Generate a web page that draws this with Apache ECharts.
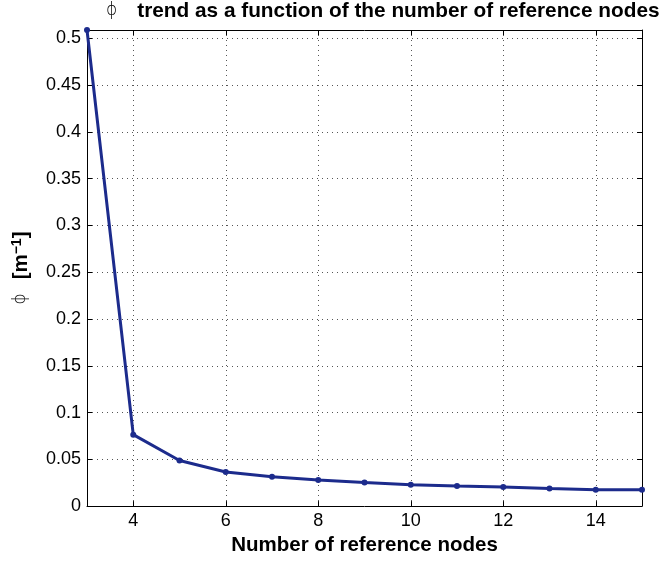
<!DOCTYPE html>
<html>
<head>
<meta charset="utf-8">
<script src="https://cdn.jsdelivr.net/npm/echarts@6/dist/echarts.min.js"></script>
<style>
  html, body { margin: 0; padding: 0; background: #fff; }
  #chart { width: 668px; height: 561px; }
</style>
</head>
<body>
<div id="chart"></div>
<script>
// Number of reference nodes and the resulting phi values [1/m]
const nodes = [3, 4, 5, 6, 7, 8, 9, 10, 11, 12, 13, 14, 15];
const phi = [0.509, 0.0764, 0.0487, 0.0364, 0.0314, 0.0279, 0.0253, 0.0229, 0.0215, 0.0204, 0.0189, 0.0176, 0.0176];
const xTicks = [4, 6, 8, 10, 12, 14];

const FONT = '"Liberation Sans", Arial, Helvetica, sans-serif';
const PHI_FONT = '"DejaVu Sans Light", "DejaVu Sans ExtraLight", "DejaVu Sans", sans-serif';
const LINE = '#1c2b8c';

const chart = echarts.init(document.getElementById('chart'), null, { renderer: 'canvas' });

const axisLineStyle = { show: true, onZero: false, lineStyle: { color: '#000', width: 1 } };
const tick = { show: true, inside: true, length: 5, lineStyle: { color: '#000', width: 1 } };
const grid = { show: true, lineStyle: { color: '#555', width: 1, type: [1, 4] } };

chart.setOption({
  animation: false,
  backgroundColor: '#fff',
  title: {
    text: '{p|\u03D5}{b|trend as a function of the number of reference nodes}',
    left: 106,
    top: 0,
    padding: 0,
    textStyle: {
      rich: {
        p: { fontFamily: PHI_FONT, fontWeight: 'lighter', fontSize: 17, color: '#000', height: 22 },
        b: { fontFamily: FONT, fontSize: 20.8, fontWeight: 'bold', color: '#000', height: 22, padding: [0, 0, 0, 20] }
      }
    }
  },
  grid: { left: 87, right: 26, top: 30, bottom: 52, containLabel: false },
  xAxis: [
    {
      type: 'value', min: 3, max: 15, position: 'bottom',
      name: 'Number of reference nodes', nameLocation: 'middle', nameGap: 24,
      nameTextStyle: { fontFamily: FONT, fontSize: 20.5, fontWeight: 'bold', color: '#000' },
      axisLine: axisLineStyle,
      axisTick: Object.assign({ customValues: xTicks }, tick),
      axisLabel: { customValues: xTicks, fontFamily: FONT, fontSize: 18, color: '#000', margin: 6 },
      splitLine: grid
    },
    {
      type: 'value', min: 3, max: 15, position: 'top',
      axisLine: axisLineStyle,
      axisTick: Object.assign({ customValues: xTicks }, tick),
      axisLabel: { show: false, customValues: xTicks },
      splitLine: { show: false }
    }
  ],
  yAxis: [
    {
      type: 'value', min: 0, max: 0.509, interval: 0.05, position: 'left',
      name: '{p|\u03D5}{b|[m}{s|\u22121}{b|]}', nameLocation: 'middle', nameGap: 50, nameRotate: 90,
      nameTextStyle: {
        rich: {
          p: { fontFamily: PHI_FONT, fontWeight: 'lighter', fontSize: 17, color: '#000', height: 24, padding: [0, 14, 0, 0] },
          b: { fontFamily: FONT, fontSize: 20.5, fontWeight: 'bold', color: '#000', height: 24 },
          s: { fontFamily: FONT, fontSize: 14, fontWeight: 'bold', color: '#000', verticalAlign: 'top', height: 24, padding: [0, 0, 8, 0] }
        }
      },
      axisLine: axisLineStyle,
      axisTick: tick,
      axisLabel: { showMaxLabel: false, fontFamily: FONT, fontSize: 18, color: '#000', margin: 6 },
      splitLine: grid
    },
    {
      type: 'value', min: 0, max: 0.509, interval: 0.05, position: 'right',
      axisLine: axisLineStyle,
      axisTick: tick,
      axisLabel: { show: false },
      splitLine: { show: false }
    }
  ],
  series: [{
    type: 'line',
    data: nodes.map((n, i) => [n, phi[i]]),
    xAxisIndex: 0, yAxisIndex: 0,
    symbol: 'circle', symbolSize: 6,
    itemStyle: { color: LINE },
    lineStyle: { color: LINE, width: 3 },
    clip: false
  }]
});
</script>
</body>
</html>
